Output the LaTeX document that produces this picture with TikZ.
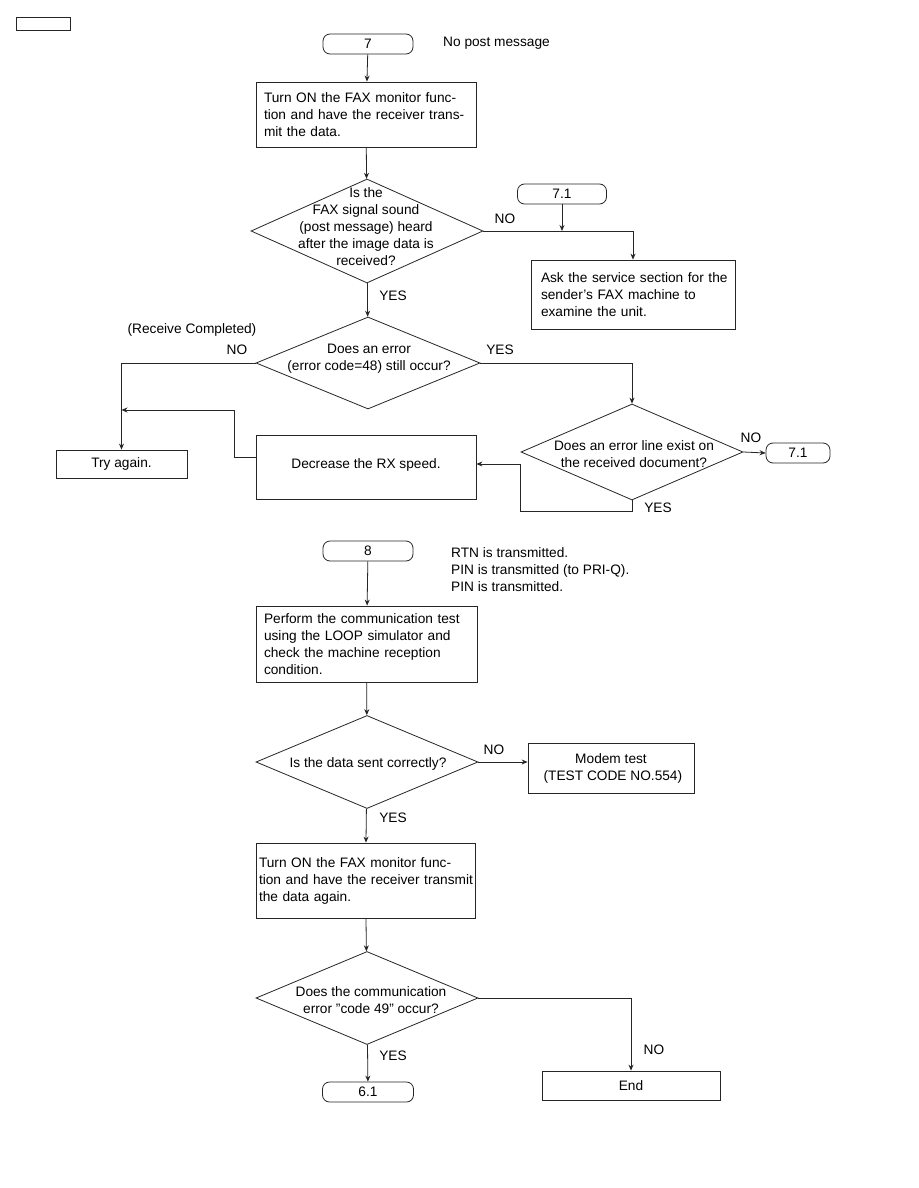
\documentclass[tikz,border=0pt]{standalone}
\usepackage{fontspec}
\setmainfont{Liberation Sans}
\usetikzlibrary{shapes.geometric,arrows.meta}
\newcommand{\lnx}[1]{\mbox{#1}}
\begin{document}
\begin{tikzpicture}[x=1pt,y=-1pt,
  every node/.style={font=\fontsize{13.7}{17}\selectfont},
  ln/.style={draw=black!85, line width=0.8pt},
  arr/.style={ln, -{Stealth[length=6pt,width=5pt]}},
  box/.style={draw=black!85, line width=0.8pt, inner xsep=8pt, inner ysep=0pt, align=left},
  cbox/.style={draw=black!85, line width=0.8pt, inner sep=0pt, align=center},
  term/.style={draw=black!85, line width=0.8pt, rounded corners=7pt, minimum width=90pt, minimum height=20pt, inner sep=0pt},
  dia/.style={draw=black!85, line width=0.8pt, diamond, inner sep=0pt},
  lbl/.style={inner sep=0pt}
]
\useasboundingbox[fill=white] (0,0) rectangle (918,1188);

% corner mark
\node[cbox, minimum width=54pt, minimum height=13pt] (mark) at (43,23.5) {};

% ---------- section 7 ----------
\node[term] (t7) at (368,44) {7};
\node[lbl, anchor=west] (nopost) at (443,43) {No post message};
\node[box, text width=204pt, minimum height=65pt] (b1) at (366,114.5)
  {\lnx{Turn ON the FAX monitor func-}\\\lnx{tion and have the receiver trans-}\\\lnx{mit the data.}};
\node[dia, minimum width=232pt, minimum height=104pt] (d1) at (367,231) {};
\node[lbl, align=center] (d1t) at (366,227) {Is the\\FAX signal sound\\(post message) heard\\after the image data is\\received?};
\node[term, minimum width=89pt] (t71a) at (562,194) {7.1};
\node[box, inner xsep=10pt, text width=184pt, minimum height=69pt] (ask) at (633,294.5)
  {\lnx{Ask the service section for the}\\\lnx{sender\symbol{39}s FAX machine to}\\\lnx{examine the unit.}};
\node[lbl] (no1) at (505,219) {NO};
\node[lbl] (yes1) at (393,296) {YES};

\node[dia, minimum width=224pt, minimum height=92pt] (d2) at (368,363) {};
\node[lbl, align=center] (d2t) at (369,359) {Does an error\\(error code=48) still occur?};
\node[lbl] (rc) at (192,330) {(Receive Completed)};
\node[lbl] (no2) at (237,350) {NO};
\node[lbl] (yes2) at (500,350) {YES};

\node[cbox, minimum width=131pt, minimum height=28pt] (try) at (121.5,464) {Try again.};
\node[cbox, minimum width=220pt, minimum height=64pt] (dec) at (366,467) {\raisebox{6pt}{Decrease the RX speed.}};
\node[dia, minimum width=222pt, minimum height=96pt] (d3) at (632,452) {};
\node[lbl, align=center] (d3t) at (634,454.5) {Does an error line exist on\\the received document?};
\node[term, minimum width=64pt] (t71b) at (798,453) {7.1};
\node[lbl] (no3) at (751,438) {NO};
\node[lbl] (yes3) at (658,508) {YES};

% connectors section 7
\draw[arr] (t7) -- (b1);
\draw[arr] (b1) -- (d1);
\draw[arr] (d1.east) -| (ask.north);
\draw[arr] (t71a.south) -- (t71a.south |- d1.east);
\draw[arr] (d1) -- (d2);
\draw[arr] (d2.west) -| (try.north);
\draw[arr] (d2.east) -| (d3.north);
\draw[arr] (d3.east) -- (t71b.west);
\coordinate (y1) at (632,511);
\coordinate (y2) at (520,511);
\coordinate (y3) at (520,464);
\draw[arr] (d3.south) -- (y1) -- (y2) -- (y3) -- (y3 -| dec.east);
\coordinate (r1) at (256,457);
\coordinate (r2) at (234,457);
\coordinate (r3) at (234,410);
\coordinate (r4) at (121.5,410);
\draw[arr] (r1) -- (r2) -- (r3) -- (r4);

% ---------- section 8 ----------
\node[term] (t8) at (368,551) {8};
\node[lbl, anchor=west, align=left] (notes) at (451,570)
  {RTN is transmitted.\\PIN is transmitted (to PRI-Q).\\PIN is transmitted.};
\node[box, text width=205pt, minimum height=76pt] (b2) at (366.5,644)
  {\lnx{Perform the communication test}\\\lnx{using the LOOP simulator and}\\\lnx{check the machine reception}\\\lnx{condition.}};
\node[dia, minimum width=222pt, minimum height=93pt] (d4) at (367,762) {};
\node[lbl] (d4t) at (368,764) {Is the data sent correctly?};
\node[cbox, minimum width=166pt, minimum height=50pt] (modem) at (611,768)
  {Modem test\\\ (TEST CODE NO.554)};
\node[lbl] (no4) at (494,750) {NO};
\node[lbl] (yes4) at (393,818) {YES};
\node[box, inner xsep=3pt, text width=213pt, minimum height=75pt] (b3) at (365.5,880.5)
  {\lnx{Turn ON the FAX monitor func-}\\\lnx{tion and have the receiver transmit}\\\lnx{the data again.}};
\node[dia, minimum width=222pt, minimum height=93pt] (d5) at (367,998) {};
\node[lbl, align=center] (d5t) at (371,1000.5) {Does the communication\\error \symbol{34}code 49\symbol{34} occur?};
\node[term, minimum width=91pt] (t61) at (368,1092) {6.1};
\node[cbox, minimum width=178pt, minimum height=29pt] (end) at (631,1085.5) {End};
\node[lbl] (yes5) at (393,1056) {YES};
\node[lbl] (no5) at (654,1050) {NO};

% connectors section 8
\draw[arr] (t8) -- (b2);
\draw[arr] (b2) -- (d4);
\draw[arr] (d4.east) -- (modem.west |- d4.east);
\draw[arr] (d4) -- (b3);
\draw[arr] (b3) -- (d5);
\draw[arr] (d5) -- (t61);
\draw[arr] (d5.east) -| (end.north);
\end{tikzpicture}
\end{document}
